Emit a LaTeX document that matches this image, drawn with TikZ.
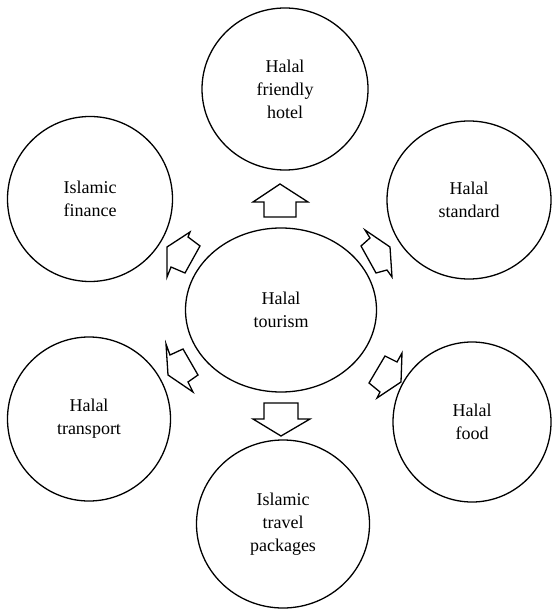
\documentclass[tikz,border=0pt]{standalone}
\usepackage{fontspec}
\setmainfont{Liberation Serif}
\usetikzlibrary{shapes.geometric}
\begin{document}
\begin{tikzpicture}[x=1pt,y=-1pt,
  bubble/.style={ellipse, draw=black, line width=1.3pt, fill=white, inner sep=0pt, align=center,
    font=\fontsize{18}{23}\selectfont},
  blockarrow/.style={draw=black, line width=1.3pt, fill=white, line join=miter}]
\useasboundingbox (0,0) rectangle (551,609);
\node[bubble, minimum width=166pt, minimum height=162pt] (hotel) at (285,89) {Halal\\friendly\\hotel};
\node[bubble, minimum width=164pt, minimum height=158pt] (standard) at (469,200) {Halal\\standard};
\node[bubble, minimum width=158pt, minimum height=160pt] (food) at (472,422) {Halal\\food};
\node[bubble, minimum width=165pt, minimum height=165pt] (finance) at (90,199) {Islamic\\finance};
\node[bubble, minimum width=163pt, minimum height=164pt] (transport) at (89,419) {Halal\\transport};
\node[bubble, minimum width=173pt, minimum height=168pt] (packages) at (283,524) {Islamic\\travel\\packages};
\node[bubble, minimum width=191pt, minimum height=164pt] (tourism) at (281,310) {Halal\\tourism};
% block arrows
\draw[blockarrow] (280,184) -- (308,202) -- (296,202) -- (296,217) -- (264,217) -- (264,202) -- (253,202) -- cycle;
\draw[blockarrow] (281,436) -- (310,419) -- (298,419) -- (298,403) -- (264,403) -- (264,419) -- (253,419) -- cycle;
\draw[blockarrow] (167,247) -- (190,232) -- (188,237) -- (200,246) -- (185,273) -- (171,267) -- (167,277) -- cycle;
\draw[blockarrow] (390,247) -- (392,277) -- (387,270) -- (376,273) -- (361,246) -- (370,238) -- (365,230) -- cycle;
\draw[blockarrow] (168,375) -- (166,344) -- (170,355) -- (183,349) -- (198,375) -- (188,382) -- (193,392) -- cycle;
\draw[blockarrow] (402,353) -- (401,382) -- (377,398) -- (380,392) -- (369,383) -- (385,356) -- (397,362) -- cycle;
\end{tikzpicture}
\end{document}
